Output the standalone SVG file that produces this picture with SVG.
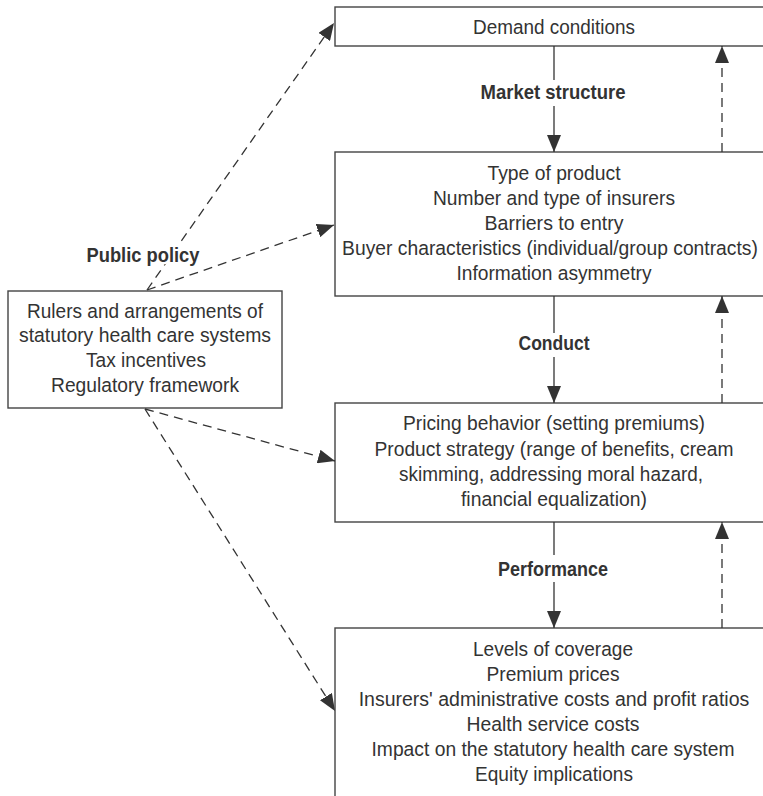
<svg xmlns="http://www.w3.org/2000/svg" width="763" height="796" viewBox="0 0 763 796">
<style>
.box{fill:#fff;stroke:#444;stroke-width:1.4}
.t{font-family:'Liberation Sans Narrow','Liberation Sans',Arial,sans-serif;font-size:20.5px;fill:#333;text-anchor:middle}
.b{font-weight:bold;font-size:20px}
.h{stroke:#fff;stroke-width:5px;paint-order:stroke;stroke-linejoin:round}
.ln{stroke:#333;stroke-width:1.3;fill:none}
.d{stroke-dasharray:9 6}
</style>
<defs>
<marker id="ah" markerUnits="userSpaceOnUse" markerWidth="18" markerHeight="14" viewBox="0 0 18 14" refX="17" refY="7" orient="auto">
<path d="M0,0 L17,7 L0,14 Z" fill="#333"/>
</marker>
</defs>
<rect width="763" height="796" fill="#fff"/>
<g id="demand">
<rect class="box" x="335" y="7" width="440" height="39"/>
<text class="t" x="554" y="34" textLength="162" lengthAdjust="spacingAndGlyphs">Demand conditions</text>
</g>
<g id="structure">
<rect class="box" x="335" y="152" width="440" height="144"/>
<text class="t" x="554" y="180" textLength="133" lengthAdjust="spacingAndGlyphs">Type of product</text>
<text class="t" x="554" y="205" textLength="242" lengthAdjust="spacingAndGlyphs">Number and type of insurers</text>
<text class="t" x="554" y="230" textLength="139" lengthAdjust="spacingAndGlyphs">Barriers to entry</text>
<text class="t" x="550" y="255" style="font-size:19.3px">Buyer characteristics (individual/group contracts)</text>
<text class="t" x="554" y="280" textLength="195" lengthAdjust="spacingAndGlyphs">Information asymmetry</text>
</g>
<g id="conduct">
<rect class="box" x="335" y="403" width="440" height="119"/>
<text class="t" x="554" y="430" textLength="302" lengthAdjust="spacingAndGlyphs">Pricing behavior (setting premiums)</text>
<text class="t" x="554" y="456" textLength="359" lengthAdjust="spacingAndGlyphs">Product strategy (range of benefits, cream</text>
<text class="t" x="551" y="481" textLength="304" lengthAdjust="spacingAndGlyphs">skimming, addressing moral hazard,</text>
<text class="t" x="554" y="506" textLength="186" lengthAdjust="spacingAndGlyphs">financial equalization)</text>
</g>
<g id="performance">
<rect class="box" x="335" y="628" width="440" height="200"/>
<text class="t" x="553" y="656" textLength="160" lengthAdjust="spacingAndGlyphs">Levels of coverage</text>
<text class="t" x="553" y="681" textLength="133" lengthAdjust="spacingAndGlyphs">Premium prices</text>
<text class="t" x="554" y="706" style="font-size:19.5px">Insurers' administrative costs and profit ratios</text>
<text class="t" x="553" y="731" textLength="173" lengthAdjust="spacingAndGlyphs">Health service costs</text>
<text class="t" x="553" y="756" textLength="363" lengthAdjust="spacingAndGlyphs">Impact on the statutory health care system</text>
<text class="t" x="554" y="781" textLength="158" lengthAdjust="spacingAndGlyphs">Equity implications</text>
</g>
<g id="policy">
<rect class="box" x="8" y="291" width="274" height="117"/>
<text class="t" x="145" y="318" textLength="236" lengthAdjust="spacingAndGlyphs">Rulers and arrangements of</text>
<text class="t" x="145" y="342" textLength="252" lengthAdjust="spacingAndGlyphs">statutory health care systems</text>
<text class="t" x="146" y="367" textLength="120" lengthAdjust="spacingAndGlyphs">Tax incentives</text>
<text class="t" x="145" y="392" textLength="188" lengthAdjust="spacingAndGlyphs">Regulatory framework</text>
</g>
<g id="connectors">
<line class="ln" x1="554" y1="46" x2="554" y2="80"/>
<line class="ln" x1="554" y1="106" x2="554" y2="152" marker-end="url(#ah)"/>
<line class="ln" x1="554" y1="296" x2="554" y2="333"/>
<line class="ln" x1="554" y1="357" x2="554" y2="403" marker-end="url(#ah)"/>
<line class="ln" x1="554" y1="522" x2="554" y2="555"/>
<line class="ln" x1="554" y1="582" x2="554" y2="628" marker-end="url(#ah)"/>
<line class="ln d" x1="722" y1="152" x2="722" y2="46" marker-end="url(#ah)"/>
<line class="ln d" x1="722" y1="403" x2="722" y2="296" marker-end="url(#ah)"/>
<line class="ln d" x1="722" y1="628" x2="722" y2="522" marker-end="url(#ah)"/>
<line class="ln d" x1="147" y1="290" x2="334" y2="23" marker-end="url(#ah)"/>
<line class="ln d" x1="147" y1="290" x2="334" y2="225" marker-end="url(#ah)"/>
<line class="ln d" x1="145" y1="409" x2="335" y2="461" marker-end="url(#ah)"/>
<line class="ln d" x1="145" y1="409" x2="335" y2="711" marker-end="url(#ah)"/>
</g>
<g id="labels">
<text class="t b h" x="143" y="262" textLength="113" lengthAdjust="spacingAndGlyphs">Public policy</text>
<text class="t b" x="553" y="99" textLength="145" lengthAdjust="spacingAndGlyphs">Market structure</text>
<text class="t b" x="554" y="350" textLength="71" lengthAdjust="spacingAndGlyphs">Conduct</text>
<text class="t b" x="553" y="576" textLength="110" lengthAdjust="spacingAndGlyphs">Performance</text>
</g>
</svg>
